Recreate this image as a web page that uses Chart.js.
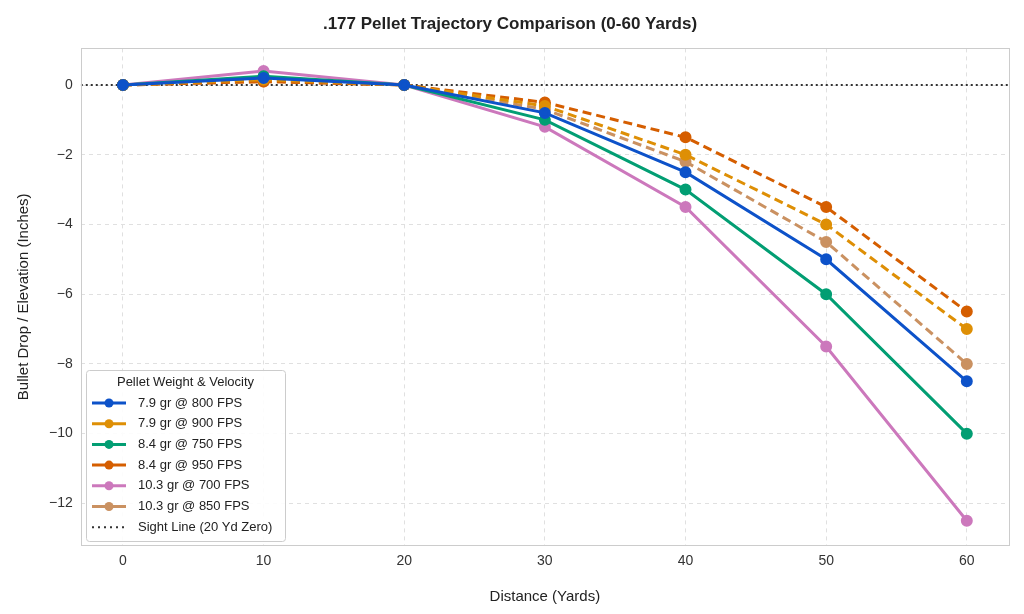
<!DOCTYPE html>
<html><head><meta charset="utf-8">
<script src="https://cdn.jsdelivr.net/npm/chart.js@4"></script>
<style>html,body{margin:0;background:#fff}#w{width:1024px;height:614px}</style>
</head><body><div id="w"><canvas id="c"></canvas></div>
<script>
const distances = [0, 10, 20, 30, 40, 50, 60];
const labels = ['7.9 gr @ 800 FPS','7.9 gr @ 900 FPS','8.4 gr @ 750 FPS','8.4 gr @ 950 FPS','10.3 gr @ 700 FPS','10.3 gr @ 850 FPS'];
const s79_800 = [0, 0.2, 0, -0.8, -2.5, -5, -8.5];
const s79_900 = [0, 0.15, 0, -0.6, -2, -4, -7];
const s84_750 = [0, 0.25, 0, -1.0, -3, -6, -10];
const s84_950 = [0, 0.1, 0, -0.5, -1.5, -3.5, -6.5];
const s103_700 = [0, 0.4, 0, -1.2, -3.5, -7.5, -12.5];
const s103_850 = [0, 0.1, 0, -0.7, -2.2, -4.5, -8];
const series = [s79_800, s79_900, s84_750, s84_950, s103_700, s103_850];
const colors = ['#0d52c9','#de8f05','#029e73','#d55e00','#cc78bc','#ca9161'];
const dashed = [false,true,false,true,false,true];
const yTicks = [0,-2,-4,-6,-8,-10,-12];
const xTicks = distances;

const datasets = series.map((s,i)=>({
  label: labels[i], data: distances.map((d,j)=>({x:d,y:s[j]})),
  borderColor: colors[i], backgroundColor: colors[i], borderWidth: 3,
  borderDash: dashed[i]?[9,5]:[], pointRadius: 4.5, pointHoverRadius: 4.5, tension:0
}));
datasets.push({label:'Sight Line (20 Yd Zero)', data:[{x:-3,y:0},{x:63,y:0}],
  borderColor:'#333', borderWidth:2, borderDash:[2,3], pointRadius:0});

const legendPlugin = {id:'lg', afterDraw(ch){
  const c=ch.ctx, x0=86, y0=370, w=199, h=171;
  c.save();
  c.fillStyle='rgba(255,255,255,0.9)'; c.strokeStyle='#ccc'; c.lineWidth=1;
  c.beginPath(); c.roundRect(x0+.5,y0+.5,w,h,3); c.fill(); c.stroke();
  c.fillStyle='#222'; c.font='13px "Liberation Sans", Arial'; c.textAlign='center'; c.textBaseline='middle';
  c.fillText('Pellet Weight & Velocity', x0+w/2, y0+12);
  c.textAlign='left';
  ch.data.datasets.forEach((d,i)=>{
    const y=y0+33+i*20.7;
    c.strokeStyle=d.borderColor; c.lineWidth=d.borderWidth;
    c.setLineDash(i<6?[]:[2,4]);
    c.beginPath(); c.moveTo(x0+6,y); c.lineTo(x0+40,y); c.stroke(); c.setLineDash([]);
    if(i<6){c.fillStyle=d.borderColor; c.beginPath(); c.arc(x0+23,y,4.5,0,7); c.fill();}
    c.fillStyle='#222'; c.fillText(d.label, x0+52, y);
  });
  c.restore();
}};
const boxPlugin = {id:'box', afterDatasetsDraw(ch){
  const a=ch.chartArea, c=ch.ctx; c.save(); c.strokeStyle='#ccc'; c.lineWidth=1;
  c.strokeRect(Math.round(a.left)+.5, Math.round(a.top)+.5, Math.round(a.right-a.left), Math.round(a.bottom-a.top)); c.restore();
}};

new Chart(document.getElementById('c'),{
  type:'line', data:{datasets},
  options:{responsive:true, maintainAspectRatio:false, animation:false,
    layout:{padding:{left:11,right:15,top:4,bottom:4}},
    plugins:{legend:{display:false}, tooltip:{enabled:false},
      title:{display:true,text:'.177 Pellet Trajectory Comparison (0-60 Yards)',color:'#222',
        font:{size:17,weight:'bold',family:'"Liberation Sans", Arial'},padding:{top:10,bottom:14}}},
    scales:{
      x:{type:'linear',min:-3,max:63,
        afterBuildTicks(a){a.ticks=xTicks.map(v=>({value:v}));},
        grid:{color:'#e0e0e0',drawTicks:false},
        border:{display:false,dash:[4,4]},
        ticks:{color:'#333',font:{size:14,family:'"Liberation Sans", Arial'},padding:8},
        title:{display:true,text:'Distance (Yards)',color:'#222',font:{size:15,family:'"Liberation Sans", Arial'},padding:{top:10}}},
      y:{min:-13.2,max:1.05,
        afterBuildTicks(a){a.ticks=yTicks.map(v=>({value:v}));},
        grid:{color:'#e0e0e0',drawTicks:false},
        border:{display:false,dash:[4,4]},
        ticks:{color:'#333',font:{size:14,family:'"Liberation Sans", Arial'},padding:8,callback:v=>v<0?'\u2212'+Math.abs(v):v},
        title:{display:true,text:'Bullet Drop / Elevation (Inches)',color:'#222',font:{size:15,family:'"Liberation Sans", Arial'},padding:{bottom:8}}}
    }},
  plugins:[legendPlugin,boxPlugin]
});
</script></body></html>
